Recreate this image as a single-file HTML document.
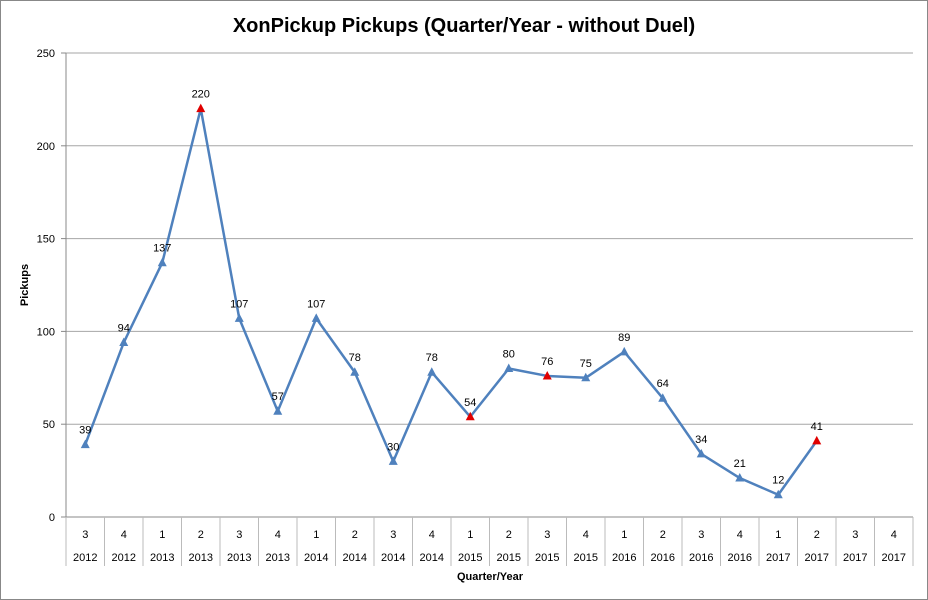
<!DOCTYPE html>
<html><head><meta charset="utf-8"><style>
html,body{margin:0;padding:0;background:#fff}
svg{display:block;font-family:"Liberation Sans",Arial,sans-serif}
</style></head><body>
<svg id="chart" width="928" height="600" viewBox="0 0 928 600" xmlns="http://www.w3.org/2000/svg">
<rect x="0.5" y="0.5" width="927" height="599" fill="#fff" stroke="#888"/>
<text x="464" y="32" text-anchor="middle" font-size="20" font-weight="bold" fill="#000">XonPickup Pickups (Quarter/Year - without Duel)</text>
<text x="0" y="0" transform="translate(28,285) rotate(-90)" text-anchor="middle" font-size="11" font-weight="bold">Pickups</text>
<text x="490" y="580" text-anchor="middle" font-size="11" font-weight="bold">Quarter/Year</text>
<g id="grid"></g><g id="axes"></g><g id="series"></g>
</svg>
<script>
const quarters=["3","4","1","2","3","4","1","2","3","4","1","2","3","4","1","2","3","4","1","2","3","4"];
const years=["2012","2012","2013","2013","2013","2013","2014","2014","2014","2014","2015","2015","2015","2015","2016","2016","2016","2016","2017","2017","2017","2017"];
const pickups=[39,94,137,220,107,57,107,78,30,78,54,80,76,75,89,64,34,21,12,41,null,null];
const highlighted=[3,10,12,19];
const yTicks=[0,50,100,150,200,250];
const NS="http://www.w3.org/2000/svg";
const L=66,R=913,T=53,B=517,yMax=250;
const bw=(R-L)/quarters.length;
const xs=i=>L+bw*(i+0.5);
const ys=v=>B-(v/yMax)*(B-T);
function mk(tag,attrs,parent,txt){const e=document.createElementNS(NS,tag);for(const k in attrs)e.setAttribute(k,attrs[k]);if(txt!==undefined)e.textContent=txt;parent.appendChild(e);return e;}
const grid=document.getElementById('grid'),axes=document.getElementById('axes'),ser=document.getElementById('series');
yTicks.forEach(t=>{const y=ys(t);
 if(t>0){const g=mk('line',{x1:L,x2:R,y1:y,y2:y,stroke:'#a6a6a6','stroke-width':1},grid);
 
 }
 const tk=mk('line',{x1:L-5,x2:L,y1:y,y2:y,stroke:'#888'},axes);
 
 
 const lb=mk('text',{x:L-11,y:y+4,'text-anchor':'end','font-size':11},axes,String(t));
 
 
});
const ya=mk('line',{x1:L,x2:L,y1:T,y2:B,stroke:'#888'},axes);


const xa=mk('line',{x1:L,x2:R,y1:B,y2:B,stroke:'#888'},axes);


for(let i=0;i<=quarters.length;i++){const x=L+bw*i;
 const s=mk('line',{x1:x,x2:x,y1:B,y2:566,stroke:'#bbb'},axes);
 
 }
quarters.forEach((q,i)=>{
 const a=mk('text',{x:xs(i),y:538,'text-anchor':'middle','font-size':11},axes,q);
 
 
 const b=mk('text',{x:xs(i),y:561,'text-anchor':'middle','font-size':11},axes,years[i]);
 
 
});
let d='';pickups.forEach((v,i)=>{if(v===null)return;d+=(d?'L':'M')+xs(i)+','+ys(v);});
const line=mk('path',{d:d,fill:'none',stroke:'#4f81bd','stroke-width':2.5,'stroke-linejoin':'round'},ser);


pickups.forEach((v,i)=>{if(v===null)return;const x=xs(i),y=ys(v);
 const red=highlighted.includes(i);
 const m=mk('polygon',{points:`${x},${y-5} ${x-4.5},${y+3.5} ${x+4.5},${y+3.5}`,fill:red?'#e00000':'#4f81bd'},ser);
 
 
 const t=mk('text',{x:x,y:y-11,'text-anchor':'middle','font-size':11},ser,String(v));
 
 
});
</script>
</body></html>
